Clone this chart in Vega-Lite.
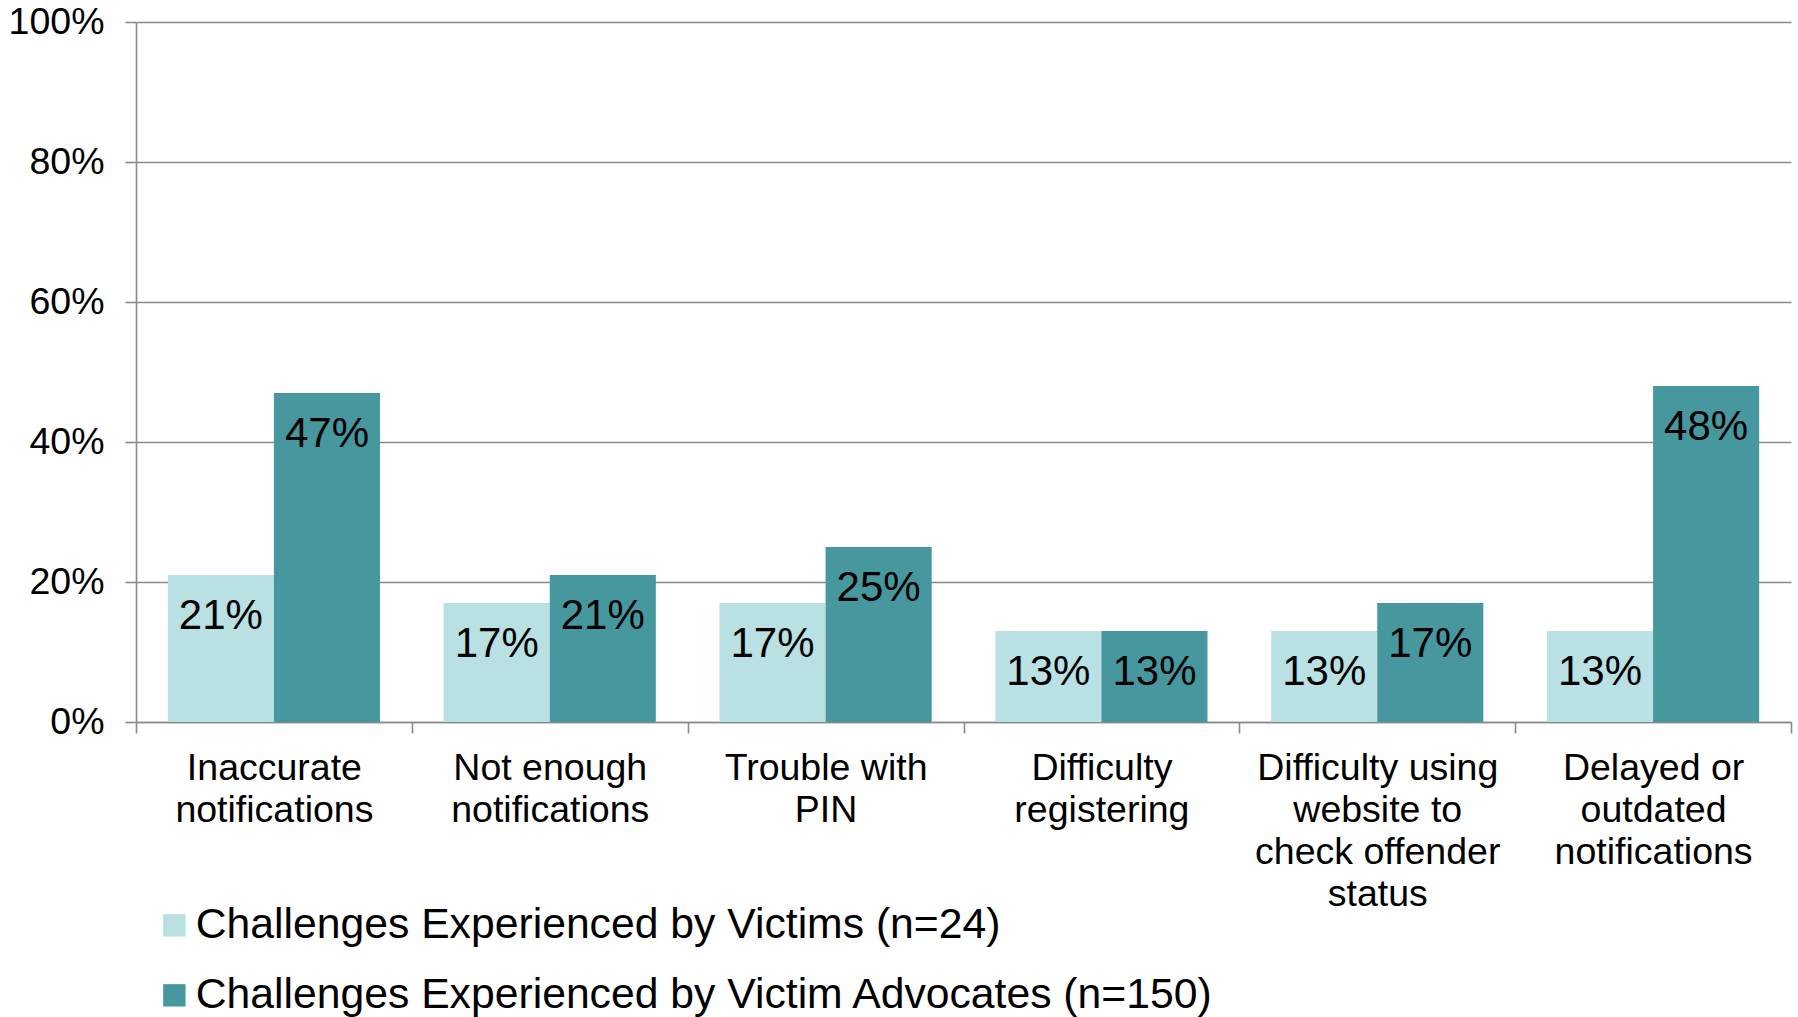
{
  "$schema": "https://vega.github.io/schema/vega-lite/v6.json",
  "autosize": {"type": "none"},
  "width": 1655,
  "height": 700,
  "padding": {"left": 136, "top": 22, "right": 7, "bottom": 295},
  "background": "white",
  "config": {
    "view": {"stroke": null},
    "font": "Liberation Sans",
    "axis": {
      "domainColor": "#8a8a8a",
      "domainWidth": 1.6,
      "tickColor": "#8a8a8a",
      "tickWidth": 1.6,
      "tickSize": 11,
      "gridColor": "#8a8a8a",
      "gridWidth": 1.5,
      "labelColor": "#000000",
      "labelFont": "Liberation Sans",
      "title": null
    }
  },
  "data": {
    "values": [
      {"challenge": "Inaccurate notifications", "group": "Challenges Experienced by Victims (n=24)", "share": 0.21},
      {"challenge": "Inaccurate notifications", "group": "Challenges Experienced by Victim Advocates (n=150)", "share": 0.47},
      {"challenge": "Not enough notifications", "group": "Challenges Experienced by Victims (n=24)", "share": 0.17},
      {"challenge": "Not enough notifications", "group": "Challenges Experienced by Victim Advocates (n=150)", "share": 0.21},
      {"challenge": "Trouble with PIN", "group": "Challenges Experienced by Victims (n=24)", "share": 0.17},
      {"challenge": "Trouble with PIN", "group": "Challenges Experienced by Victim Advocates (n=150)", "share": 0.25},
      {"challenge": "Difficulty registering", "group": "Challenges Experienced by Victims (n=24)", "share": 0.13},
      {"challenge": "Difficulty registering", "group": "Challenges Experienced by Victim Advocates (n=150)", "share": 0.13},
      {"challenge": "Difficulty using website to check offender status", "group": "Challenges Experienced by Victims (n=24)", "share": 0.13},
      {"challenge": "Difficulty using website to check offender status", "group": "Challenges Experienced by Victim Advocates (n=150)", "share": 0.17},
      {"challenge": "Delayed or outdated notifications", "group": "Challenges Experienced by Victims (n=24)", "share": 0.13},
      {"challenge": "Delayed or outdated notifications", "group": "Challenges Experienced by Victim Advocates (n=150)", "share": 0.48}
    ]
  },
  "encoding": {
    "x": {
      "field": "challenge",
      "type": "nominal",
      "sort": null,
      "scale": {"paddingInner": 0, "paddingOuter": 0},
      "axis": {
        "tickBand": "extent",
        "grid": false,
        "labelAngle": 0,
        "labelFontSize": 37.5,
        "labelLineHeight": 42,
        "labelBaseline": "top",
        "labelPadding": 16.5,
        "labelLimit": 400,
        "labelExpr": "datum.value == 'Inaccurate notifications' ? ['Inaccurate', 'notifications'] : datum.value == 'Not enough notifications' ? ['Not enough', 'notifications'] : datum.value == 'Trouble with PIN' ? ['Trouble with', 'PIN'] : datum.value == 'Difficulty registering' ? ['Difficulty', 'registering'] : datum.value == 'Difficulty using website to check offender status' ? ['Difficulty using', 'website to', 'check offender', 'status'] : datum.value == 'Delayed or outdated notifications' ? ['Delayed or', 'outdated', 'notifications'] : ''"
      }
    },
    "xOffset": {
      "field": "group",
      "type": "nominal",
      "sort": ["Challenges Experienced by Victims (n=24)", "Challenges Experienced by Victim Advocates (n=150)"],
      "scale": {"paddingInner": 0, "paddingOuter": 0.3}
    },
    "y": {
      "field": "share",
      "type": "quantitative",
      "scale": {"domain": [0, 1], "nice": false},
      "axis": {
        "values": [0, 0.2, 0.4, 0.6, 0.8, 1],
        "format": ".0%",
        "grid": true,
        "labelFontSize": 37.5,
        "labelPadding": 21
      }
    }
  },
  "layer": [
    {
      "mark": {"type": "bar", "strokeWidth": 0},
      "encoding": {
        "color": {
          "field": "group",
          "type": "nominal",
          "sort": ["Challenges Experienced by Victims (n=24)", "Challenges Experienced by Victim Advocates (n=150)"],
          "scale": {
            "domain": ["Challenges Experienced by Victims (n=24)", "Challenges Experienced by Victim Advocates (n=150)"],
            "range": ["#b9e0e3", "#46979e"]
          },
          "legend": {
            "title": null,
            "orient": "none",
            "legendX": 17,
            "legendY": 882,
            "direction": "vertical",
            "padding": 0,
            "symbolType": "square",
            "symbolSize": 500,
            "symbolStrokeWidth": 0,
            "symbolOpacity": 1,
            "labelFontSize": 42.7,
            "labelFont": "Liberation Sans",
            "labelColor": "#000000",
            "labelOffset": 0,
            "labelLimit": 2000,
            "rowPadding": 26
          }
        }
      }
    },
    {
      "mark": {"type": "text", "baseline": "middle", "align": "center", "dy": 41, "fontSize": 42, "font": "Liberation Sans", "color": "#000000"},
      "encoding": {
        "text": {"field": "share", "type": "quantitative", "format": ".0%"}
      }
    }
  ]
}
